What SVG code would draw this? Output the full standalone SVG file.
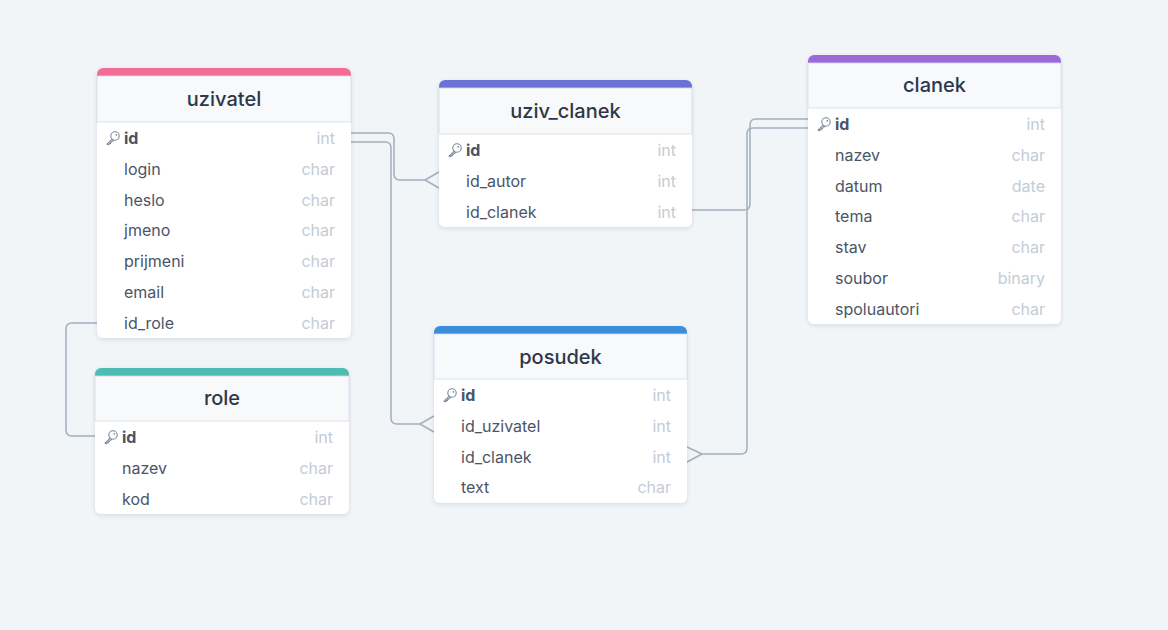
<svg xmlns="http://www.w3.org/2000/svg" xmlns:xlink="http://www.w3.org/1999/xlink" width="1168" height="630" viewBox="0 0 1168 630">
<defs>
<style>
.bg{fill:#f1f5f8}
.card{fill:#ffffff;filter:url(#sh)}
.hdr{fill:#f7f9fb;stroke:#d5dce5;stroke-width:0.8}
.title{font-family:Inter,"Noto Sans",sans-serif;font-size:20px;font-weight:500;fill:#2d3748;text-anchor:middle}
.nm{font-family:Inter,"Noto Sans",sans-serif;font-size:16px;fill:#4a5568}
.pk{font-weight:700}
.tp{font-family:Inter,"Noto Sans",sans-serif;font-size:16px;fill:#c3ccd6;text-anchor:end}
.ln{fill:none;stroke:#a3afbf;stroke-width:1.5}
.key{fill:none;stroke:#7a8799;stroke-width:1.1;stroke-linecap:round;stroke-linejoin:round}
</style>
<filter id="sh" x="-10%" y="-10%" width="120%" height="130%">
<feDropShadow dx="0" dy="1.5" stdDeviation="2" flood-color="#1a2b44" flood-opacity="0.12"/>
</filter>
<symbol id="k" viewBox="0 0 14 14" width="14" height="14" overflow="visible">
<circle class="key" cx="9" cy="5" r="4.2"/>
<path class="key" d="M6.2,8.1 L1,13.2 L2.6,13.6 L3.4,12.6 L4.4,12.6 L4.6,11.4 L5.6,11.2 L6.3,10 L7.6,9.6"/>
<circle cx="10.3" cy="3.8" r="0.9" fill="#7a8799"/>
</symbol>
</defs>
<rect class="bg" x="0" y="0" width="1168" height="630"/>

<g id="connectors">
<path class="ln" d="M351,133 H388 Q394,133 394,139 V174 Q394,180 400,180 H425"/>
<path class="ln" d="M425,180 L439,172 M425,180 L439,188"/>
<path class="ln" d="M351,142 H385 Q391,142 391,148 V418 Q391,424 397,424 H420"/>
<path class="ln" d="M420,424 L434,416 M420,424 L434,432"/>
<path class="ln" d="M692,210 H744 Q750,210 750,204 V125 Q750,119 756,119 H808"/>
<path class="ln" d="M808,128 H753 Q747,128 747,134 V448 Q747,454 741,454 H702"/>
<path class="ln" d="M702,454 L687,447 M702,454 L687,462"/>
<path class="ln" d="M97,323 H72 Q66,323 66,329 V430 Q66,436 72,436 H95"/>
</g>

<g id="uzivatel" transform="translate(97,68)">
<rect class="card" x="0" y="0" width="254" height="270" rx="6"/>
<path fill="#f26d97" d="M0,8 V6 A6,6 0 0 1 6,0 H248 A6,6 0 0 1 254,6 V8 Z"/>
<rect class="hdr" x="0" y="8" width="254" height="46"/>
<text class="title" x="127" y="38">uzivatel</text>
<use href="#k" xlink:href="#k" x="9" y="63"/>
<text class="nm pk" x="27" y="76">id</text><text class="tp" x="238" y="76">int</text>
<text class="nm" x="27" y="106.8">login</text><text class="tp" x="238" y="106.8">char</text>
<text class="nm" x="27" y="137.6">heslo</text><text class="tp" x="238" y="137.6">char</text>
<text class="nm" x="27" y="168.4">jmeno</text><text class="tp" x="238" y="168.4">char</text>
<text class="nm" x="27" y="199.2">prijmeni</text><text class="tp" x="238" y="199.2">char</text>
<text class="nm" x="27" y="230">email</text><text class="tp" x="238" y="230">char</text>
<text class="nm" x="27" y="260.8">id_role</text><text class="tp" x="238" y="260.8">char</text>
</g>

<g id="uziv_clanek" transform="translate(439,80)">
<rect class="card" x="0" y="0" width="253" height="147" rx="6"/>
<path fill="#6a72d6" d="M0,8 V6 A6,6 0 0 1 6,0 H247 A6,6 0 0 1 253,6 V8 Z"/>
<rect class="hdr" x="0" y="8" width="253" height="46"/>
<text class="title" x="126.5" y="38">uziv_clanek</text>
<use href="#k" xlink:href="#k" x="9" y="63"/>
<text class="nm pk" x="27" y="76">id</text><text class="tp" x="237" y="76">int</text>
<text class="nm" x="27" y="106.8">id_autor</text><text class="tp" x="237" y="106.8">int</text>
<text class="nm" x="27" y="137.6">id_clanek</text><text class="tp" x="237" y="137.6">int</text>
</g>

<g id="clanek" transform="translate(808,55)">
<rect class="card" x="0" y="0" width="253" height="269" rx="6"/>
<path fill="#9b69dc" d="M0,8 V6 A6,6 0 0 1 6,0 H247 A6,6 0 0 1 253,6 V8 Z"/>
<rect class="hdr" x="0" y="8" width="253" height="45"/>
<text class="title" x="126.5" y="37">clanek</text>
<use href="#k" xlink:href="#k" x="9" y="62"/>
<text class="nm pk" x="27" y="75">id</text><text class="tp" x="237" y="75">int</text>
<text class="nm" x="27" y="105.8">nazev</text><text class="tp" x="237" y="105.8">char</text>
<text class="nm" x="27" y="136.6">datum</text><text class="tp" x="237" y="136.6">date</text>
<text class="nm" x="27" y="167.4">tema</text><text class="tp" x="237" y="167.4">char</text>
<text class="nm" x="27" y="198.2">stav</text><text class="tp" x="237" y="198.2">char</text>
<text class="nm" x="27" y="229">soubor</text><text class="tp" x="237" y="229">binary</text>
<text class="nm" x="27" y="259.8">spoluautori</text><text class="tp" x="237" y="259.8">char</text>
</g>

<g id="role" transform="translate(95,368)">
<rect class="card" x="0" y="0" width="254" height="146" rx="6"/>
<path fill="#4dbcb2" d="M0,8 V6 A6,6 0 0 1 6,0 H248 A6,6 0 0 1 254,6 V8 Z"/>
<rect class="hdr" x="0" y="8" width="254" height="45"/>
<text class="title" x="127" y="37">role</text>
<use href="#k" xlink:href="#k" x="9" y="62"/>
<text class="nm pk" x="27" y="75">id</text><text class="tp" x="238" y="75">int</text>
<text class="nm" x="27" y="105.8">nazev</text><text class="tp" x="238" y="105.8">char</text>
<text class="nm" x="27" y="136.6">kod</text><text class="tp" x="238" y="136.6">char</text>
</g>

<g id="posudek" transform="translate(434,326)">
<rect class="card" x="0" y="0" width="253" height="177" rx="6"/>
<path fill="#3b8ed9" d="M0,8 V6 A6,6 0 0 1 6,0 H247 A6,6 0 0 1 253,6 V8 Z"/>
<rect class="hdr" x="0" y="8" width="253" height="45"/>
<text class="title" x="126.5" y="38">posudek</text>
<use href="#k" xlink:href="#k" x="9" y="62"/>
<text class="nm pk" x="27" y="75">id</text><text class="tp" x="237" y="75">int</text>
<text class="nm" x="27" y="105.8">id_uzivatel</text><text class="tp" x="237" y="105.8">int</text>
<text class="nm" x="27" y="136.6">id_clanek</text><text class="tp" x="237" y="136.6">int</text>
<text class="nm" x="27" y="167.4">text</text><text class="tp" x="237" y="167.4">char</text>
</g>
</svg>
